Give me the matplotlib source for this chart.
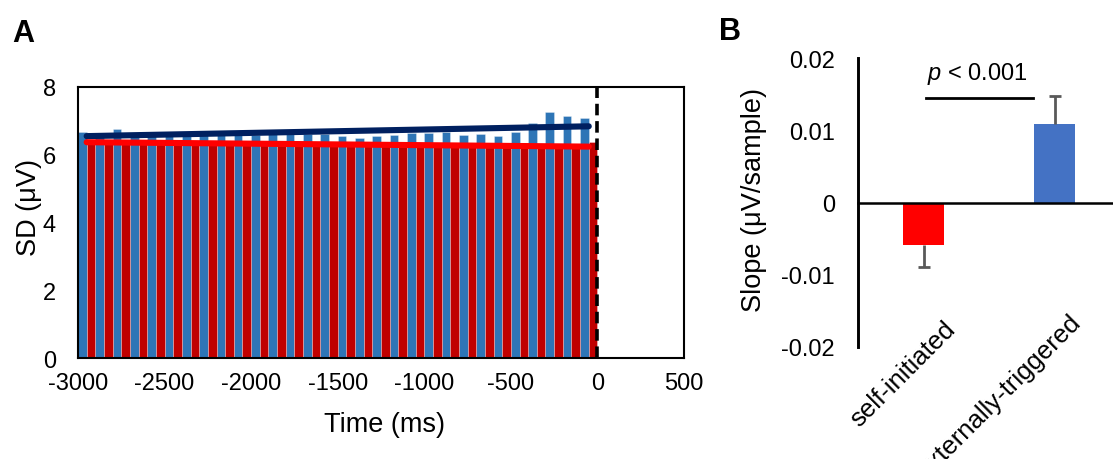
import numpy as np
import matplotlib
matplotlib.use("Agg")
import matplotlib.pyplot as plt

plt.rcParams['font.family'] = ['Liberation Sans', 'DejaVu Sans']
plt.rcParams['axes.unicode_minus'] = False
plt.rcParams['mathtext.fontset'] = 'custom'
plt.rcParams['mathtext.it'] = 'Liberation Sans:italic'
plt.rcParams['mathtext.rm'] = 'Liberation Sans'

# ---------------- data ----------------
# Panel A: 100-ms bins from -3000 ms to 0 ms
bin_start_ms = [-3000, -2900, -2800, -2700, -2600, -2500, -2400, -2300, -2200, -2100,
                -2000, -1900, -1800, -1700, -1600, -1500, -1400, -1300, -1200, -1100,
                -1000, -900, -800, -700, -600, -500, -400, -300, -200, -100]
sd_externally = [6.68, 6.58, 6.76, 6.57, 6.58, 6.56, 6.59, 6.57, 6.58, 6.60,
                 6.58, 6.60, 6.61, 6.60, 6.62, 6.54, 6.49, 6.54, 6.59, 6.63,
                 6.63, 6.66, 6.58, 6.61, 6.56, 6.68, 6.93, 7.27, 7.14, 7.09]
sd_self = [6.40, 6.38, 6.36, 6.39, 6.35, 6.37, 6.34, 6.36, 6.33, 6.35,
           6.34, 6.32, 6.33, 6.31, 6.32, 6.30, 6.29, 6.31, 6.28, 6.30,
           6.28, 6.27, 6.29, 6.26, 6.27, 6.25, 6.26, 6.24, 6.25, 6.39]
trend_t = [-2950, -50]
trend_externally = [6.55, 6.84]
trend_self = [6.37, 6.24]
xticks_a = [-3000, -2500, -2000, -1500, -1000, -500, 0, 500]
yticks_a = [0, 2, 4, 6, 8]

# Panel B
conditions = ['self-initiated', 'externally-triggered']
slopes = [-0.0059, 0.0109]
slope_err = [0.0030, 0.0039]
yticks_b = [-0.02, -0.01, 0, 0.01, 0.02]
yticklabels_b = ['-0.02', '-0.01', '0', '0.01', '0.02']

# ---------------- layout ----------------
W, H = 1113, 460
fig = plt.figure(figsize=(W / 100, H / 100), dpi=100)

def rect(l, t, r, b):
    return [l / W, 1 - b / H, (r - l) / W, (b - t) / H]

FS_TICK = 17
FS_LAB = 19.5

# ---------------- Panel A ----------------
ax1 = fig.add_axes(rect(78, 88, 684, 359))
bw = 50
ax1.bar(bin_start_ms, sd_externally, width=bw, align='edge', color='#2E75B6',
        edgecolor=(1, 1, 1, 0.35), linewidth=0.6, zorder=2)
ax1.bar([t + bw for t in bin_start_ms], sd_self, width=bw, align='edge', color='#C00000',
        edgecolor=(1, 1, 1, 0.35), linewidth=0.6, zorder=2)
ax1.plot(trend_t, trend_externally, color='#002060', lw=4.4, solid_capstyle='round', zorder=3)
ax1.plot(trend_t, trend_self, color='#FF0000', lw=4.4, solid_capstyle='round', zorder=3)
ax1.axvline(0, color='black', lw=2.6, linestyle=(0, (3.2, 1.6)), zorder=4)
ax1.set_xlim(-3000, 500)
ax1.set_ylim(0, 8)
ax1.set_xticks(xticks_a)
ax1.set_xticklabels([str(v) for v in xticks_a])
ax1.set_yticks(yticks_a)
ax1.set_yticklabels([str(v) for v in yticks_a])
ax1.tick_params(length=0, labelsize=FS_TICK)
ax1.tick_params(axis='x', pad=10)
ax1.tick_params(axis='y', pad=16)
for s in ax1.spines.values():
    s.set_linewidth(1.5)
    s.set_color('black')
    s.set_zorder(5)

fig.text(385 / W, 1 - 425 / H, 'Time (ms)', ha='center', va='center', fontsize=FS_LAB)
fig.text(29 / W, 1 - 208 / H, 'SD (μV)', ha='center', va='center', rotation=90, fontsize=FS_LAB)
fig.text(12 / W, 1 - 33.5 / H, 'A', ha='left', va='center', fontsize=22, fontweight='bold')

# ---------------- Panel B ----------------
ax2 = fig.add_axes(rect(858, 59.3, 1120, 348))
xpos = [0, 1]
ax2.bar(xpos, slopes, width=0.31, color=['#FF0000', '#4472C4'], zorder=2)
err_color = '#595959'
for x, v, e in zip(xpos, slopes, slope_err):
    end = v - e if v < 0 else v + e
    ax2.plot([x, x], [v, end], color=err_color, lw=2.0, zorder=3, solid_capstyle='butt')
    ax2.plot([x], [end], marker='_', ms=8.6, mew=2.0, color=err_color, zorder=3)
ax2.set_xlim(-0.5, 1.5)
ax2.set_ylim(-0.02, 0.02)
ax2.set_yticks(yticks_b)
ax2.set_yticklabels(yticklabels_b)
ax2.set_xticks([])
ax2.tick_params(length=0, labelsize=FS_TICK)
ax2.tick_params(axis='y', pad=16.5)
ax2.spines['top'].set_visible(False)
ax2.spines['right'].set_visible(False)
ax2.spines['left'].set_linewidth(2.1)
ax2.spines['bottom'].set_position(('data', 0))
ax2.spines['bottom'].set_linewidth(1.8)
ax2.spines['bottom'].set_zorder(4)

ax2.plot([0.02, 0.835], [0.01447, 0.01447], color='black', lw=2.0, zorder=3)
ax2.text(0.408, 0.0180, r'$\it{p}$ < 0.001', ha='center', va='center', fontsize=FS_TICK)

label_anchor_px = [(952, 326), (1077, 319)]
for lab, (px, py) in zip(conditions, label_anchor_px):
    fig.text(px / W, 1 - py / H, lab, rotation=45, rotation_mode='anchor',
             ha='right', va='center', fontsize=18.5)

fig.text(754 / W, 1 - 200 / H, 'Slope (μV/sample)', ha='center', va='center',
         rotation=90, fontsize=FS_LAB)
fig.text(719 / W, 1 - 32 / H, 'B', ha='left', va='center', fontsize=22, fontweight='bold')

fig.savefig('out.png', dpi=100)
